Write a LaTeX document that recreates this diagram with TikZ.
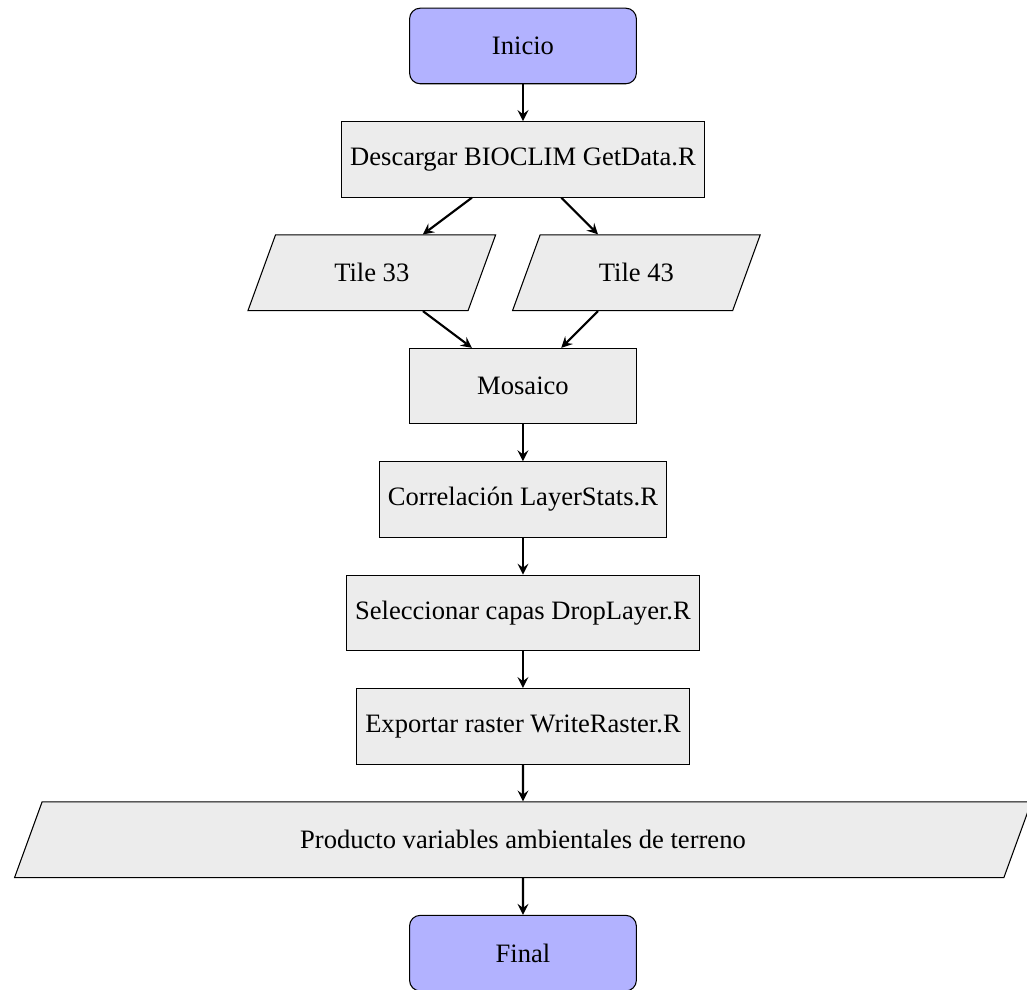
\documentclass[tikz,border=0pt]{standalone}
\usepackage{fontspec}
\setmainfont{Liberation Serif}
\usetikzlibrary{shapes.geometric,arrows}
\tikzset{
  startstop/.style={rectangle, rounded corners, minimum width=3cm, minimum height=1cm, text centered, draw=black, fill=blue!30},
  process/.style={rectangle, minimum width=3cm, minimum height=1cm, text centered, draw=black, fill=gray!15},
  io/.style={trapezium, trapezium left angle=70, trapezium right angle=110, minimum width=3cm, minimum height=1cm, text centered, draw=black, fill=gray!15},
  arrow/.style={thick,->,>=stealth}
}
\begin{document}
\begin{tikzpicture}
\useasboundingbox (-6.918,0.608) rectangle (6.667,-12.487);
\node[startstop] (start) at (0,0) {Inicio};
\node[process] (desc) at (0,-1.5) {Descargar BIOCLIM GetData.R};
\node[io] (t33) at (-2,-3) {Tile 33};
\node[io] (t43) at (1.5,-3) {Tile 43};
\node[process] (mos) at (0,-4.5) {Mosaico};
\node[process] (cor) at (0,-6) {Correlación LayerStats.R};
\node[process] (sel) at (0,-7.5) {Seleccionar capas DropLayer.R};
\node[process] (exp) at (0,-9) {Exportar raster WriteRaster.R};
\node[io, minimum width=13.22cm] (prod) at (0,-10.5) {Producto variables ambientales de terreno};
\node[startstop] (fin) at (0,-12) {Final};
\draw[arrow] (start) -- (desc);
\draw[arrow] (desc) -- (t33);
\draw[arrow] (desc) -- (t43);
\draw[arrow] (t33) -- (mos);
\draw[arrow] (t43) -- (mos);
\draw[arrow] (mos) -- (cor);
\draw[arrow] (cor) -- (sel);
\draw[arrow] (sel) -- (exp);
\draw[arrow] (exp) -- (prod);
\draw[arrow] (prod) -- (fin);
\end{tikzpicture}
\end{document}
